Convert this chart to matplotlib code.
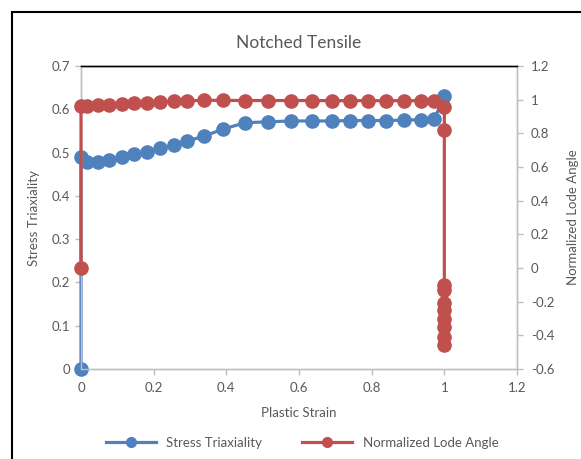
import numpy as np
import matplotlib.pyplot as plt
from matplotlib.lines import Line2D

plt.rcParams['font.family'] = ['Lato', 'DejaVu Sans']

# plastic strain values (shared by both series)
strain = [0.0, 0.0, 0.016, 0.046, 0.077, 0.112, 0.146, 0.182, 0.218, 0.256,
          0.293, 0.339, 0.39, 0.452, 0.515, 0.577, 0.635, 0.69, 0.74, 0.79,
          0.84, 0.89, 0.935, 0.972]
triax = [0.0, 0.49, 0.479, 0.479, 0.483, 0.489, 0.497, 0.502, 0.51, 0.517,
         0.527, 0.538, 0.554, 0.569, 0.571, 0.573, 0.573, 0.573, 0.574, 0.574,
         0.574, 0.575, 0.576, 0.577]
triax_end_x = [1.0]
triax_end = [0.63]

lode = [0.0, 0.962, 0.962, 0.966, 0.970, 0.974, 0.978, 0.982, 0.986, 0.990,
        0.994, 0.996, 0.996, 0.995, 0.995, 0.995, 0.995, 0.994, 0.994, 0.994,
        0.994, 0.994, 0.994, 0.995]
lode_end = [0.958, 0.82, -0.10, -0.13, -0.21, -0.25, -0.30, -0.35, -0.41, -0.46]

blue = '#4F81BD'
red = '#C0504D'
grey = '#595959'

fig = plt.figure(figsize=(5.81, 4.59), dpi=100)
ax = fig.add_axes([81/581, 1-369/459, (517-81)/581, (369-66)/459])
ax2 = ax.twinx()

bx = strain + triax_end_x
by = triax + triax_end
ax.plot(bx, by, color=blue, lw=2.3, marker='o', ms=9.5, clip_on=False, zorder=3)

rx = strain + [1.0] * len(lode_end)
ry = lode + lode_end
ax2.plot(rx, ry, color=red, lw=2.3, marker='o', ms=9.5, clip_on=False, zorder=3)

ax.set_xlim(0, 1.2)
ax.set_ylim(0, 0.7)
ax2.set_ylim(-0.6, 1.2)
ax.set_xticks(np.arange(0, 1.21, 0.2))
ax.set_xticklabels(['0', '0.2', '0.4', '0.6', '0.8', '1', '1.2'])
ax.set_yticks(np.arange(0, 0.71, 0.1))
ax.set_yticklabels(['0', '0.1', '0.2', '0.3', '0.4', '0.5', '0.6', '0.7'])
ax2.set_yticks(np.arange(-0.6, 1.21, 0.2))
ax2.set_yticklabels(['-0.6', '-0.4', '-0.2', '0', '0.2', '0.4', '0.6', '0.8', '1', '1.2'])

for a in (ax, ax2):
    for s in a.spines.values():
        s.set_color('#BFBFBF')
        s.set_linewidth(1)
    a.spines['top'].set_color('black')
    a.tick_params(colors='#BFBFBF', labelcolor=grey, labelsize=9.5, length=4, width=1)
ax.tick_params(axis='x', pad=5)
ax.tick_params(axis='y', pad=4)
ax2.tick_params(axis='y', pad=6)

ax.set_title('Notched Tensile', color=grey, fontsize=12.5, pad=13)
ax.set_xlabel('Plastic Strain', color=grey, fontsize=9.5, labelpad=10)
ax.set_ylabel('Stress Triaxiality', color=grey, fontsize=9.5, labelpad=8)
ax2.set_ylabel('Normalized Lode Angle', color=grey, fontsize=9.5, labelpad=9)

handles = [Line2D([], [], color=blue, lw=2.3, marker='o', ms=7),
           Line2D([], [], color=red, lw=2.3, marker='o', ms=7)]
leg = fig.legend(handles, ['Stress Triaxiality', 'Normalized Lode Angle'],
                 loc='center', bbox_to_anchor=(0.52, 1-443/459), ncol=2,
                 frameon=False, fontsize=9.5, handlelength=3.8, columnspacing=3)
for t in leg.get_texts():
    t.set_color(grey)

# outer chart frame
fig.patches.append(plt.Rectangle((12/581, -0.1), 1.2, 1-12/459+0.1,
                                 transform=fig.transFigure, fill=False,
                                 edgecolor='black', lw=1.5))

fig.savefig('out.png', dpi=100)
